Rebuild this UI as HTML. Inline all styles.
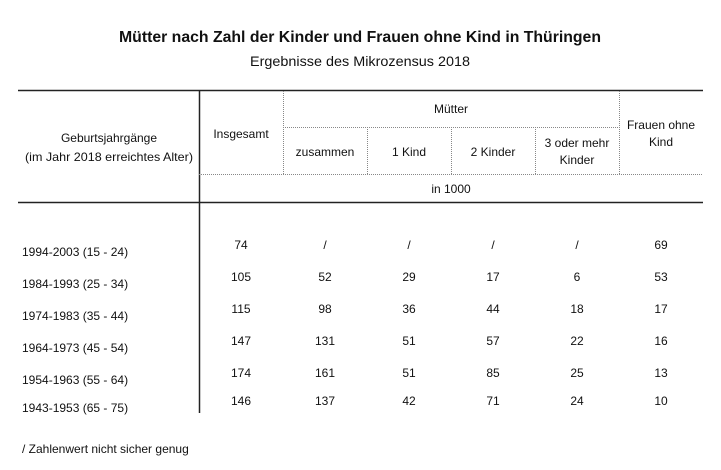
<!DOCTYPE html>
<html><head><meta charset="utf-8"><style>
body{margin:0;background:#fff}
svg text{font-family:"Liberation Sans",sans-serif;fill:#111}
</style></head><body>
<svg width="721" height="465" xmlns="http://www.w3.org/2000/svg">
<text x="360" y="42" font-size="16" font-weight="bold" text-anchor="middle" textLength="482" lengthAdjust="spacingAndGlyphs">Mütter nach Zahl der Kinder und Frauen ohne Kind in Thüringen</text>
<text x="360" y="66" font-size="14" text-anchor="middle" textLength="220" lengthAdjust="spacingAndGlyphs">Ergebnisse des Mikrozensus 2018</text>
<g stroke="#222" stroke-width="1.5">
<line x1="18" y1="90.5" x2="703" y2="90.5"/>
<line x1="18" y1="202.5" x2="703" y2="202.5"/>
<line x1="199.5" y1="90" x2="199.5" y2="413"/>
</g>
<g stroke="#888" stroke-width="1" stroke-dasharray="1,1">
<line x1="283.5" y1="91" x2="283.5" y2="174"/>
<line x1="619.5" y1="91" x2="619.5" y2="174"/>
<line x1="367.5" y1="127" x2="367.5" y2="174"/>
<line x1="451.5" y1="127" x2="451.5" y2="174"/>
<line x1="535.5" y1="127" x2="535.5" y2="174"/>
<line x1="283" y1="127.5" x2="619" y2="127.5"/>
<line x1="199" y1="174.5" x2="703" y2="174.5"/>
</g>
<g font-size="12" text-anchor="middle">
<text x="109" y="142">Geburtsjahrgänge</text>
<text x="109" y="161" textLength="168" lengthAdjust="spacingAndGlyphs">(im Jahr 2018 erreichtes Alter)</text>
<text x="241" y="138">Insgesamt</text>
<text x="451" y="113">Mütter</text>
<text x="325" y="156">zusammen</text>
<text x="409" y="156">1 Kind</text>
<text x="493" y="156">2 Kinder</text>
<text x="577" y="147">3 oder mehr</text>
<text x="577" y="164">Kinder</text>
<text x="661" y="129">Frauen ohne</text>
<text x="661" y="146">Kind</text>
<text x="451" y="193">in 1000</text>
</g>
<g font-size="12">
<text x="22" y="256">1994-2003 (15 - 24)</text>
<text x="22" y="288">1984-1993 (25 - 34)</text>
<text x="22" y="320">1974-1983 (35 - 44)</text>
<text x="22" y="352">1964-1973 (45 - 54)</text>
<text x="22" y="384">1954-1963 (55 - 64)</text>
<text x="22" y="412">1943-1953 (65 - 75)</text>
<text x="22" y="453">/ Zahlenwert nicht sicher genug</text>
</g>
<g font-size="12" text-anchor="middle">
<g transform="translate(0,249)"><text x="241">74</text><text x="325">/</text><text x="409">/</text><text x="493">/</text><text x="577">/</text><text x="661">69</text></g>
<g transform="translate(0,281)"><text x="241">105</text><text x="325">52</text><text x="409">29</text><text x="493">17</text><text x="577">6</text><text x="661">53</text></g>
<g transform="translate(0,313)"><text x="241">115</text><text x="325">98</text><text x="409">36</text><text x="493">44</text><text x="577">18</text><text x="661">17</text></g>
<g transform="translate(0,345)"><text x="241">147</text><text x="325">131</text><text x="409">51</text><text x="493">57</text><text x="577">22</text><text x="661">16</text></g>
<g transform="translate(0,377)"><text x="241">174</text><text x="325">161</text><text x="409">51</text><text x="493">85</text><text x="577">25</text><text x="661">13</text></g>
<g transform="translate(0,405)"><text x="241">146</text><text x="325">137</text><text x="409">42</text><text x="493">71</text><text x="577">24</text><text x="661">10</text></g>
</g>
</svg>
</body></html>
